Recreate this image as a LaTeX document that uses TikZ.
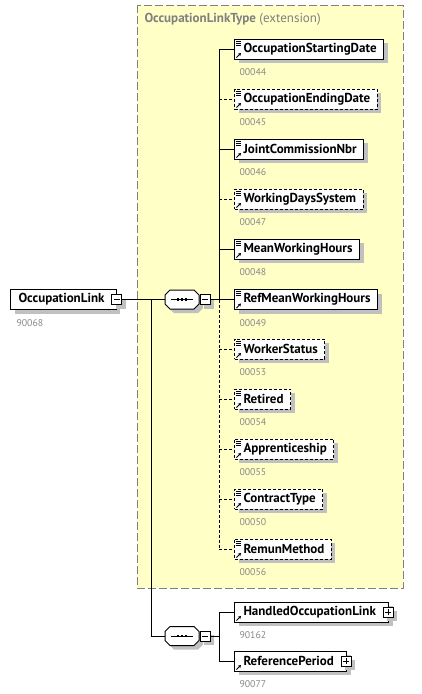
\documentclass[tikz,border=0pt]{standalone}
\usepackage{fontspec}
\setmainfont{PT Sans}
\usetikzlibrary{arrows.meta,calc,shadows}
\definecolor{ybg}{RGB}{255,255,198}
\definecolor{shadowc}{RGB}{192,192,192}
\definecolor{idgray}{RGB}{136,136,136}
\definecolor{bordergray}{RGB}{128,128,128}
\newcommand\elicons[1]{%
  \foreach \k in {0,2,4}{\draw[line width=0.8pt] ($(#1.north west)+(1.5,2.5+\k)$) -- ++(5,0);}
  \elarrow{#1}}
\newcommand\elarrow[1]{%
  \draw[line width=1pt,-{Stealth[length=3pt,width=3.5pt]}] ($(#1.south west)+(2.5,-2)$) -- ++(4.5,-4.5);}
\newcommand\seqshape[1]{%
  \fill[shadowc,shift={(#1.center)}] (-8,-5.5) -- (16,-5.5) -- (21,-0.5) -- (21,8.5) -- (16,13.5) -- (-8,13.5) -- (-13,8.5) -- (-13,-0.5) -- cycle;
  \draw[fill=white,line width=1pt,shift={(#1.center)}] (-12,-9.5) -- (12,-9.5) -- (17,-4.5) -- (17,4.5) -- (12,9.5) -- (-12,9.5) -- (-17,4.5) -- (-17,-4.5) -- cycle;
  \draw[line width=1pt,shift={(#1.center)}] (-11,0) -- (11,0);
  \foreach \dx in {-4,0,4}{\fill[shift={(#1.center)}] (\dx-1.4,-1.4) rectangle (\dx+1.4,1.4);}}
\begin{document}
\begin{tikzpicture}[x=1pt,y=-1pt,line width=1pt,
  shad/.style={drop shadow={shadow xshift=4pt,shadow yshift=-4pt,fill=shadowc,opacity=1}},
  elbase/.style={draw=black,fill=white,line width=1pt,inner xsep=0pt,inner ysep=0pt,minimum height=20pt,anchor=west,
    font=\bfseries\fontsize{13}{14}\selectfont,shad},
  el/.style={elbase,execute at begin node={\hspace*{9pt}},execute at end node={\hspace*{7pt}}},
  opt/.style={el,dash pattern=on 3pt off 2pt},
  elp/.style={elbase,execute at begin node={\hspace*{9pt}},execute at end node={\hspace*{13pt}}},
  idl/.style={anchor=west,inner sep=0pt,text=idgray,font=\fontsize{9.8}{11}\selectfont},
  pmbox/.style={draw=black,fill=white,line width=1pt,minimum size=10pt,inner sep=0pt,shad},
  minus/.style={pmbox,path picture={\draw[line width=0.9pt] ([xshift=2pt]path picture bounding box.west) -- ([xshift=-2pt]path picture bounding box.east);}},
  plus/.style={pmbox,path picture={\draw[line width=0.9pt] ([xshift=2pt]path picture bounding box.west) -- ([xshift=-2pt]path picture bounding box.east);
      \draw[line width=0.9pt] ([yshift=-2pt]path picture bounding box.north) -- ([yshift=2pt]path picture bounding box.south);}},
  seqn/.style={minimum width=34pt,minimum height=19pt,inner sep=0pt},
  dconn/.style={dash pattern=on 3pt off 2pt}]
\useasboundingbox (0,0) rectangle (421,694);
% extension box
\draw[fill=ybg,draw=bordergray,dash pattern=on 8pt off 3pt] (137,5) rectangle (403,588);
\node[anchor=west,inner sep=0pt,text=bordergray,font=\fontsize{13}{14}\selectfont] (title) at (144,19) {\textbf{OccupationLinkType} (extension)};
% root
\node[elbase,execute at begin node={\hspace*{8pt}},execute at end node={\hspace*{12pt}}] (ol) at (10,299.5) {OccupationLink};
\node[minus] (olm) at (ol.east) {};
\node[idl] (olid) at ($(ol.south west)+(6,13)$) {90068};
% sequence 1
\node[seqn] (seq1) at (182,299.5) {};
\seqshape{seq1}
\node[minus,anchor=west] (seq1m) at (seq1.east) {};
% sequence 2
\node[seqn] (seq2) at (182,636) {};
\seqshape{seq2}
\node[minus,anchor=west] (seq2m) at (seq2.east) {};
% elements
\node[el]  (e1)  at (234,49)  {OccupationStartingDate};
\node[opt] (e2)  at (234,99)  {OccupationEndingDate};
\node[el]  (e3)  at (234,149) {JointCommissionNbr};
\node[opt] (e4)  at (234,199) {WorkingDaysSystem};
\node[el]  (e5)  at (234,249) {MeanWorkingHours};
\node[el]  (e6)  at (234,299.5) {RefMeanWorkingHours};
\node[opt] (e7)  at (234,349) {WorkerStatus};
\node[opt] (e8)  at (234,399) {Retired};
\node[opt] (e9)  at (234,449) {Apprenticeship};
\node[opt] (e10) at (234,499) {ContractType};
\node[opt] (e11) at (234,549) {RemunMethod};
\foreach \n/\id in {e1/00044,e2/00045,e3/00046,e4/00047,e5/00048,e6/00049,e7/00053,e8/00054,e9/00055,e10/00050,e11/00056}{
  \elicons{\n}
  \node[idl] (\n id) at ($(\n.south west)+(5,13)$) {\id};}
\node[elp] (h1) at (234,612) {HandledOccupationLink};
\node[plus] (h1p) at ($(h1.east)+(-1,0)$) {};
\node[elp] (h2) at (234,661) {ReferencePeriod};
\node[plus] (h2p) at ($(h2.east)+(-1,0)$) {};
\elarrow{h1}
\elarrow{h2}
\node[idl] (h1id) at ($(h1.south west)+(5,13)$) {90162};
\node[idl] (h2id) at ($(h2.south west)+(5,13)$) {90077};
% connectors
\coordinate (j1) at (151,299.5);
\coordinate (bus1) at (219,0);
\coordinate (bus2) at (219,0);
\draw (olm.east) -- (seq1.west);
\draw (j1) |- (seq2.west);
\draw (seq1m.east) -- (e6.west);
\draw (bus1 |- e1.west) -- (bus1 |- e6.west);
\draw[dconn] (bus1 |- e6.west) -- (bus1 |- e11.west);
\foreach \n in {e1,e3,e5}{\draw (bus1 |- \n.west) -- (\n.west);}
\foreach \n in {e2,e4,e7,e8,e9,e10,e11}{\draw[dconn] (bus1 |- \n.west) -- (\n.west);}
\draw (seq2m.east) -- (bus2 |- seq2m.east);
\draw (bus2 |- h1.west) -- (bus2 |- h2.west);
\draw (bus2 |- h1.west) -- (h1.west);
\draw (bus2 |- h2.west) -- (h2.west);
\end{tikzpicture}
\end{document}
